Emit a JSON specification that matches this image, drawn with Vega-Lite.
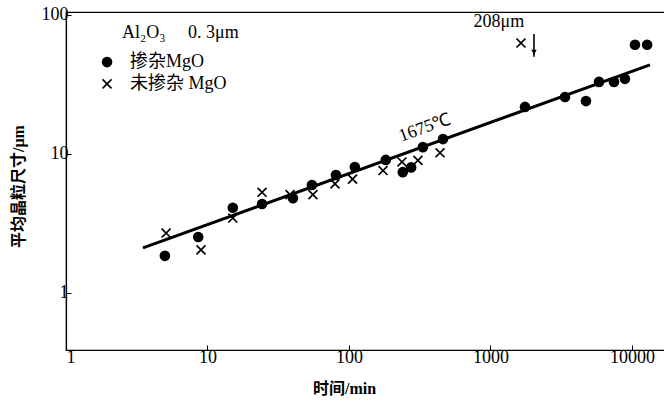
{
  "$schema": "https://vega.github.io/schema/vega-lite/v6.json",
  "autosize": "none",
  "width": 600,
  "height": 338,
  "padding": {"left": 66, "top": 12, "right": 0, "bottom": 56},
  "background": "white",
  "config": {
    "view": {"stroke": "black", "strokeWidth": 1.2},
    "axis": {
      "grid": false,
      "domainColor": "black",
      "domainWidth": 1.2,
      "tickColor": "black",
      "tickSize": -5,
      "labelFont": "Liberation Serif",
      "labelFontSize": 18,
      "labelColor": "black",
      "titleFont": "Liberation Serif, Noto Sans CJK SC",
      "titleFontSize": 16,
      "titleFontWeight": "bold",
      "titleColor": "black"
    }
  },
  "layer": [
    {
      "data": {"values": [{"t": 3.5, "d": 2.11}, {"t": 13400, "d": 43.7}]},
      "mark": {"type": "line", "color": "black", "strokeWidth": 3},
      "encoding": {
        "x": {
          "field": "t", "type": "quantitative",
          "scale": {"type": "log", "domain": [1, 17400], "nice": false},
          "axis": {"values": [1, 10, 100, 1000, 10000], "format": "d", "title": "时间/min", "titleX": 278, "titleY": 38, "titleBaseline": "middle", "labelPadding": 3}
        },
        "y": {
          "field": "d", "type": "quantitative",
          "scale": {"type": "log", "domain": [0.389, 105], "nice": false},
          "axis": {"values": [1, 10, 100], "format": "d", "title": "平均晶粒尺寸/μm", "titleX": -48, "titleY": 174, "titleBaseline": "middle", "labelPadding": 3}
        }
      }
    },
    {
      "data": {"values": [
        {"t": 5.0, "d": 1.85, "g": "掺杂MgO"},
        {"t": 8.6, "d": 2.53, "g": "掺杂MgO"},
        {"t": 15.1, "d": 4.1, "g": "掺杂MgO"},
        {"t": 24.3, "d": 4.37, "g": "掺杂MgO"},
        {"t": 40.2, "d": 4.8, "g": "掺杂MgO"},
        {"t": 54.7, "d": 5.98, "g": "掺杂MgO"},
        {"t": 80.9, "d": 7.06, "g": "掺杂MgO"},
        {"t": 110, "d": 8.06, "g": "掺杂MgO"},
        {"t": 182, "d": 9.06, "g": "掺杂MgO"},
        {"t": 240, "d": 7.4, "g": "掺杂MgO"},
        {"t": 275, "d": 8.0, "g": "掺杂MgO"},
        {"t": 333, "d": 11.2, "g": "掺杂MgO"},
        {"t": 462, "d": 12.8, "g": "掺杂MgO"},
        {"t": 1754, "d": 21.8, "g": "掺杂MgO"},
        {"t": 3363, "d": 25.7, "g": "掺杂MgO"},
        {"t": 4730, "d": 24.0, "g": "掺杂MgO"},
        {"t": 5850, "d": 33.0, "g": "掺杂MgO"},
        {"t": 7460, "d": 33.0, "g": "掺杂MgO"},
        {"t": 8920, "d": 34.7, "g": "掺杂MgO"},
        {"t": 10500, "d": 61, "g": "掺杂MgO"},
        {"t": 12800, "d": 61, "g": "掺杂MgO"},
        {"t": 5.1, "d": 2.7, "g": "未掺杂 MgO"},
        {"t": 9.0, "d": 2.04, "g": "未掺杂 MgO"},
        {"t": 15.1, "d": 3.46, "g": "未掺杂 MgO"},
        {"t": 24.3, "d": 5.3, "g": "未掺杂 MgO"},
        {"t": 38.3, "d": 5.1, "g": "未掺杂 MgO"},
        {"t": 55.6, "d": 5.1, "g": "未掺杂 MgO"},
        {"t": 79.6, "d": 6.1, "g": "未掺杂 MgO"},
        {"t": 106, "d": 6.6, "g": "未掺杂 MgO"},
        {"t": 174, "d": 7.6, "g": "未掺杂 MgO"},
        {"t": 237, "d": 8.76, "g": "未掺杂 MgO"},
        {"t": 307, "d": 9.0, "g": "未掺杂 MgO"},
        {"t": 440, "d": 10.2, "g": "未掺杂 MgO"},
        {"t": 1643, "d": 62.8, "g": "未掺杂 MgO"},
        {"t": 1.95, "d": 45.8, "g": "掺杂MgO"},
        {"t": 1.95, "d": 31.9, "g": "未掺杂 MgO"}
      ]},
      "mark": {"type": "point", "filled": false, "fill": "black", "stroke": "black", "strokeWidth": 1.7, "size": 80, "opacity": 1, "fillOpacity": 1},
      "encoding": {
        "x": {"field": "t", "type": "quantitative"},
        "y": {"field": "d", "type": "quantitative"},
        "shape": {
          "field": "g", "type": "nominal",
          "scale": {"domain": ["掺杂MgO", "未掺杂 MgO"], "range": ["circle", "M-1,-1L1,1M1,-1L-1,1"]},
          "legend": null
        }
      }
    },
    {
      "data": {"values": [{"t": 2030, "d": 73, "d2": 50}]},
      "mark": {"type": "rule", "color": "black", "strokeWidth": 1.6},
      "encoding": {
        "x": {"field": "t", "type": "quantitative"},
        "y": {"field": "d", "type": "quantitative"},
        "y2": {"field": "d2"}
      }
    },
    {
      "data": {"values": [{"t": 2030, "d": 54}]},
      "mark": {"type": "point", "shape": "triangle-down", "filled": true, "color": "black", "size": 30, "opacity": 1},
      "encoding": {
        "x": {"field": "t", "type": "quantitative"},
        "y": {"field": "d", "type": "quantitative"}
      }
    },
    {
      "data": {"values": [
        {"t": 2.49, "d": 74, "label": "Al₂O₃\u00a0\u00a0\u00a0\u00a0\u00a00.\u00a03μm"},
        {"t": 760, "d": 89, "label": "208μm"},
        {"t": 2.83, "d": 45.8, "label": "掺杂MgO"},
        {"t": 2.83, "d": 31.9, "label": "未掺杂 MgO"}
      ]},
      "mark": {"type": "text", "align": "left", "baseline": "middle", "font": "Liberation Serif, Noto Sans CJK SC", "fontSize": 18, "color": "black"},
      "encoding": {
        "x": {"field": "t", "type": "quantitative"},
        "y": {"field": "d", "type": "quantitative"},
        "text": {"field": "label"}
      }
    },
    {
      "data": {"values": [{"t": 344, "d": 15.4, "label": "1675℃"}]},
      "mark": {"type": "text", "align": "center", "baseline": "middle", "angle": -20, "font": "Liberation Serif", "fontSize": 18, "color": "black"},
      "encoding": {
        "x": {"field": "t", "type": "quantitative"},
        "y": {"field": "d", "type": "quantitative"},
        "text": {"field": "label"}
      }
    }
  ]
}
